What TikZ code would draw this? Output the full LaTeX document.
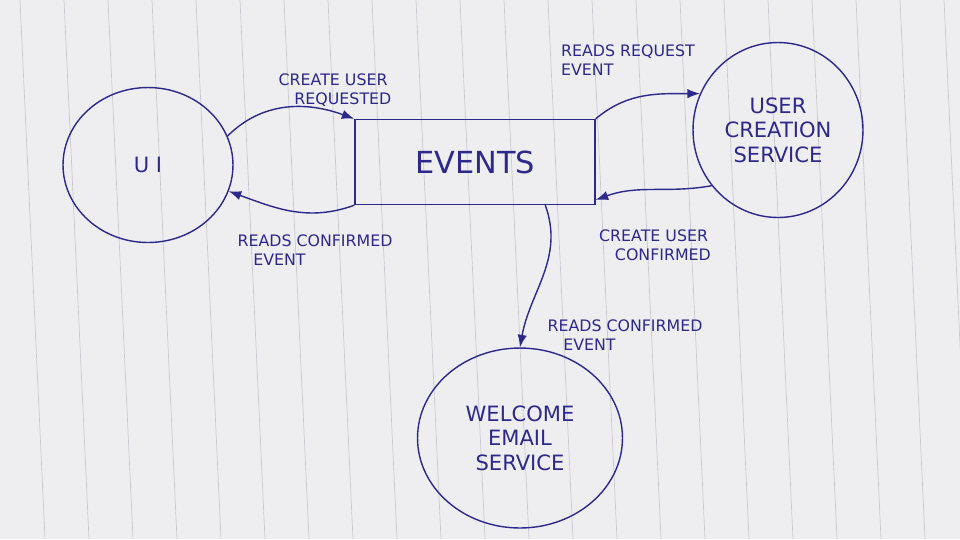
\documentclass[tikz,border=0pt]{standalone}
\usepackage{fontspec}
\setmainfont{DejaVu Sans}
\usetikzlibrary{arrows.meta,positioning,shapes.geometric}
\definecolor{Ink}{RGB}{45,40,140}
\definecolor{Paper}{RGB}{238,238,240}
\definecolor{Rule}{RGB}{200,200,210}
\tikzstyle{blob}=[draw=Ink,ellipse,thick,text=Ink,align=center,font=\large]
\tikzstyle{store}=[draw=Ink,rectangle,thick,text=Ink,font=\LARGE,minimum width=4.8cm,minimum height=1.7cm]
\tikzstyle{flow}=[->,Ink,thick,>={Latex[length=2.5mm]}]
\tikzstyle{note}=[text=Ink,align=left,font=\small]
\begin{document}
\begin{tikzpicture}[x=0.02cm,y=-0.02cm]
    % paper
    \fill[Paper] (0,0) rectangle (960,539);
    \useasboundingbox (0,0) rectangle (960,539);
    \foreach \i in {0,...,22}
        \draw[Rule] (20+\i*44,0) -- (\i*44+45,539);

    % boxes
    \node[blob,minimum width=3.4cm,minimum height=3.1cm] (UI) at (148,165) {U I};
    \node[store] (Events) at (475,162) {EVENTS};
    \node[blob,minimum width=3.4cm,minimum height=3.5cm] (User) at (778,130) {USER\\CREATION\\SERVICE};
    \node[blob,minimum width=4.1cm,minimum height=3.6cm] (Email) at (520,438) {WELCOME\\EMAIL\\SERVICE};

    % flows
    \draw[flow,out=45,in=160] (UI.20) to (Events.north west);
    \draw[flow,out=200,in=-20] (Events.south west) to (UI.-18);
    \draw[flow,out=40,in=180] (Events.north east) to (User.155);
    \draw[flow,out=-170,in=20] (User.-140) to ([yshift=3pt]Events.south east);
    \draw[flow,out=-70,in=80] ([xshift=40pt]Events.south) to (Email.north);

    % labels
    \node[note] (l1) at (335,90) {CREATE USER\\\quad REQUESTED};
    \node[note] (l2) at (315,250) {READS CONFIRMED\\\quad EVENT};
    \node[note] (l3) at (628,60) {READS REQUEST\\EVENT};
    \node[note] (l4) at (655,245) {CREATE USER\\\quad CONFIRMED};
    \node[note] (l5) at (625,335) {READS CONFIRMED\\\quad EVENT};
\end{tikzpicture}
\end{document}
